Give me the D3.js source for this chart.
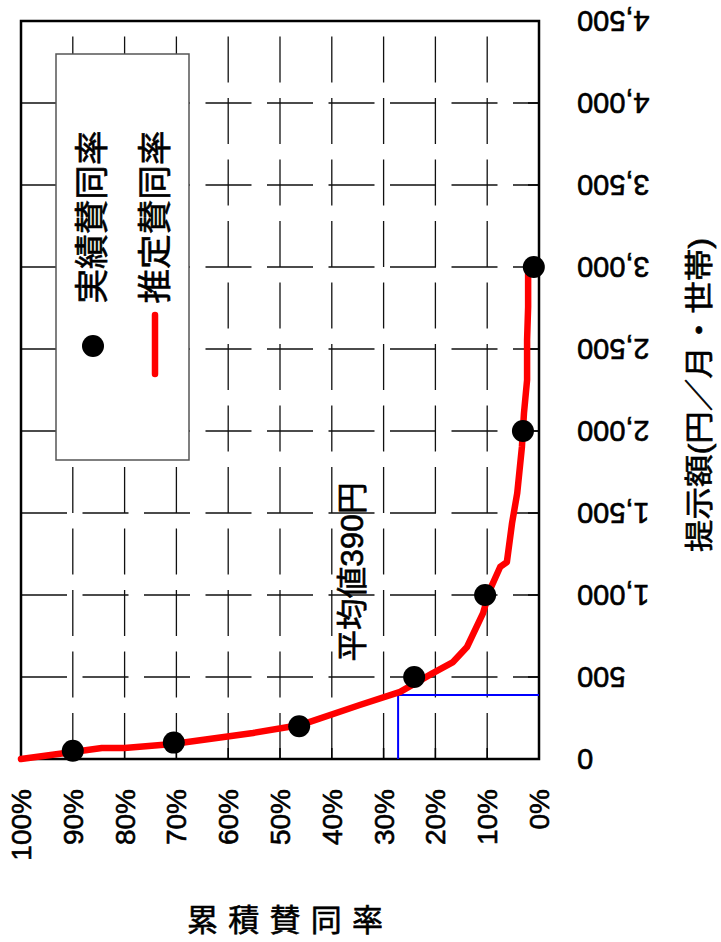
<!DOCTYPE html>
<html>
<head>
<meta charset="utf-8">
<script src="https://cdn.jsdelivr.net/npm/d3@7"></script>
<style>
  html, body { margin: 0; padding: 0; background: #fff; }
  svg { display: block; }
  text { font-family: "Liberation Sans", "Noto Sans CJK JP", sans-serif; fill: #000; stroke: #000; stroke-width: 0.6px; }
</style>
</head>
<body>
<svg id="chart" width="721" height="942"></svg>
<script>
// ---- data ----
const amountTicks = [0, 500, 1000, 1500, 2000, 2500, 3000, 3500, 4000, 4500];
const pctTicks = [100, 90, 80, 70, 60, 50, 40, 30, 20, 10, 0];
// 実績賛同率 (observed)
const actualAmount = [50, 100, 200, 500, 1000, 2000, 3000];
const actualPct = [90, 70.5, 46.3, 24.1, 10.4, 3.1, 1.0];
// 推定賛同率 (estimated curve)
const estAmount = [0, 43, 67, 67, 91, 159, 207, 329, 409, 524, 591, 683, 890, 1030, 1171, 1201, 1439, 1622, 1902, 2110, 2311, 2555, 2756, 2963, 3000];
const estPct = [100, 90, 84.4, 80, 70.7, 55.2, 46.1, 34.6, 26.8, 20.5, 16.6, 13.9, 10.8, 9.5, 7.5, 6.2, 5.2, 4.2, 3.3, 2.9, 2.3, 2.3, 2.1, 2.1, 1.9];
const meanAmount = 390;
const meanPct = 27.2;
const legendLabels = ["実績賛同率", "推定賛同率"];
const meanLabel = "平均値390円";
const xTitle = "累積賛同率";
const yTitle = "提示額(円／月・世帯)";

// ---- layout ----
const svg = d3.select("#chart");
const L = 21, R = 539, T = 21, B = 759;
const x = d3.scaleLinear().domain([100, 0]).range([L, R]);
const y = d3.scaleLinear().domain([0, 4500]).range([B, T]);

// grid
const grid = svg.append("g").attr("stroke", "#111").attr("stroke-width", 1.3)
  .attr("stroke-dasharray", "46,15.5").attr("fill", "none");
grid.selectAll("line.h").data(amountTicks.filter(v => v > 0 && v < 4500)).join("line")
  .attr("class", "h").attr("x1", L).attr("x2", R).attr("y1", d => y(d)).attr("y2", d => y(d));
grid.selectAll("line.v").data(pctTicks.filter(v => v > 0 && v < 100)).join("line")
  .attr("class", "v").attr("x1", d => x(d)).attr("x2", d => x(d)).attr("y1", B).attr("y2", T);

// ticks (inner)
svg.append("g").attr("stroke", "#000").attr("stroke-width", 1.5)
  .selectAll("line").data(amountTicks).join("line")
  .attr("x1", R - 11).attr("x2", R).attr("y1", d => y(d)).attr("y2", d => y(d));
svg.append("g").attr("stroke", "#000").attr("stroke-width", 1.5)
  .selectAll("line").data(pctTicks).join("line")
  .attr("x1", d => x(d)).attr("x2", d => x(d)).attr("y1", B - 11).attr("y2", B);

// legend box
svg.append("rect").attr("x", 56).attr("y", 54).attr("width", 133).attr("height", 406)
  .attr("fill", "#fff").attr("stroke", "#555").attr("stroke-width", 1.5);

// frame
svg.append("rect").attr("x", L).attr("y", T).attr("width", R - L).attr("height", B - T)
  .attr("fill", "none").attr("stroke", "#000").attr("stroke-width", 2.5);

// mean lines (blue)
svg.append("path")
  .attr("d", `M${x(meanPct)},${B} L${x(meanPct)},${y(meanAmount)} L${R},${y(meanAmount)}`)
  .attr("fill", "none").attr("stroke", "#0000ff").attr("stroke-width", 2);

// estimated curve
const line = d3.line().x(d => x(d[1])).y(d => y(d[0]));
svg.append("path").datum(estAmount.map((a, i) => [a, estPct[i]]))
  .attr("d", line).attr("fill", "none").attr("stroke", "#ff0000")
  .attr("stroke-width", 6.5).attr("stroke-linejoin", "round").attr("stroke-linecap", "round");

// actual points
svg.append("g").selectAll("circle").data(actualAmount.map((a, i) => [a, actualPct[i]])).join("circle")
  .attr("cx", d => x(d[1])).attr("cy", d => y(d[0])).attr("r", 11).attr("fill", "#000");

// mean label
svg.append("text").attr("transform", "translate(352,572) rotate(-90)")
  .attr("text-anchor", "middle").attr("dy", "0.36em").attr("font-size", 31)
  .attr("textLength", 179).attr("lengthAdjust", "spacingAndGlyphs").text(meanLabel);

// legend items
svg.append("circle").attr("cx", 93).attr("cy", 346).attr("r", 11).attr("fill", "#000");
svg.append("line").attr("x1", 155).attr("x2", 155).attr("y1", 315).attr("y2", 374)
  .attr("stroke", "#ff0000").attr("stroke-width", 6.5).attr("stroke-linecap", "round");
svg.selectAll("text.leg").data(legendLabels).join("text").attr("class", "leg")
  .attr("transform", (d, i) => `translate(${i === 0 ? 92 : 155},217) rotate(-90)`)
  .attr("text-anchor", "middle").attr("dy", "0.36em").attr("font-size", 34)
  .attr("textLength", 173).attr("lengthAdjust", "spacingAndGlyphs").text(d => d);

// percentage tick labels
const pfmt = d => d + "%";
svg.append("g").selectAll("text").data(pctTicks).join("text")
  .attr("transform", d => `translate(${x(d)},789) rotate(-90)`)
  .attr("text-anchor", "end").attr("dy", "0.36em").attr("font-size", 28).text(pfmt);

// amount tick labels (upside down)
const afmt = d3.format(",");
svg.append("g").selectAll("text").data(amountTicks).join("text")
  .attr("transform", d => `translate(577,${y(d)}) rotate(180)`)
  .attr("text-anchor", "end").attr("dy", "0.36em").attr("font-size", 29).text(afmt);

// axis titles
svg.append("text").attr("x", 285).attr("y", 931).attr("text-anchor", "middle")
  .attr("font-size", 31).attr("textLength", 196).attr("lengthAdjust", "spacing").text(xTitle);
svg.append("text").attr("transform", "translate(700,395) rotate(-90)")
  .attr("text-anchor", "middle").attr("dy", "0.36em").attr("font-size", 29)
  .attr("textLength", 314).attr("lengthAdjust", "spacingAndGlyphs").text(yTitle);
</script>
</body>
</html>
